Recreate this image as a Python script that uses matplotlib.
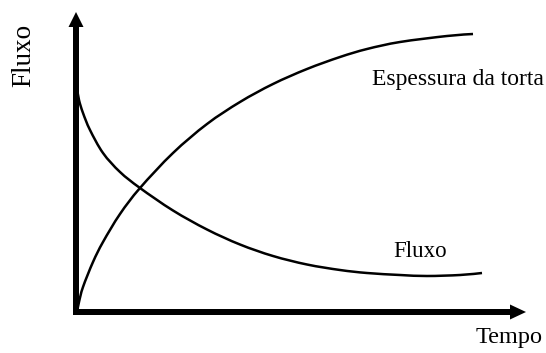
import matplotlib.pyplot as plt
from matplotlib.path import Path
from matplotlib.patches import PathPatch

plt.rcParams['font.family'] = ['Liberation Serif', 'DejaVu Serif']

# curve points (t = tempo, v = value)
esp_t = [1, 3, 7, 17, 27, 44, 64, 97, 131, 164, 197, 231, 264, 291, 324, 371, 397]
esp_v = [0, 10, 25, 50, 70, 98, 124, 159, 188, 210, 228, 243, 255, 263, 270, 276, 278]

flx_t = [1, 3, 7, 14, 27, 44, 64, 97, 131, 164, 197, 231, 264, 291, 324, 351, 384, 406]
flx_v = [224, 212, 199, 182, 159, 140, 124, 101.5, 82.5, 67.5, 56, 47.5, 42, 39, 37, 36, 37, 39]


def smooth_path(xs, ys):
    # catmull-rom through the points, drawn as cubic bezier segments
    pts = list(zip(xs, ys))
    verts = [pts[0]]
    codes = [Path.MOVETO]
    for i in range(len(pts) - 1):
        p0 = pts[i - 1] if i > 0 else pts[i]
        p1 = pts[i]
        p2 = pts[i + 1]
        p3 = pts[i + 2] if i + 2 < len(pts) else pts[i + 1]
        c1 = (p1[0] + (p2[0] - p0[0]) / 6, p1[1] + (p2[1] - p0[1]) / 6)
        c2 = (p2[0] - (p3[0] - p1[0]) / 6, p2[1] - (p3[1] - p1[1]) / 6)
        verts += [c1, c2, p2]
        codes += [Path.CURVE4] * 3
    return Path(verts, codes)


fig = plt.figure(figsize=(5.46, 3.53), dpi=100)
ax = fig.add_axes([0, 0, 1, 1])
ax.set_xlim(-76, 470)
ax.set_ylim(-41, 312)
ax.axis('off')

# axes with arrow heads
ax.arrow(0, -3, 0, 303, width=6, head_width=15, head_length=15,
         length_includes_head=True, color='black', lw=0)
ax.arrow(-3, 0, 453, 0, width=6, head_width=15, head_length=16,
         length_includes_head=True, color='black', lw=0)

for xs, ys in [(esp_t, esp_v), (flx_t, flx_v)]:
    ax.add_patch(PathPatch(smooth_path(xs, ys), fill=False, ec='black', lw=1.8))

ax.text(-52, 257, 'Fluxo', rotation=90, ha='center', va='center', fontsize=19.5)
ax.text(400, -31, 'Tempo', ha='left', va='baseline', fontsize=17.5)
ax.text(296, 227, 'Espessura da torta', ha='left', va='baseline', fontsize=17)
ax.text(317, 55, 'Fluxo', ha='left', va='baseline', fontsize=16.5)

fig.savefig('out.png', dpi=100)
